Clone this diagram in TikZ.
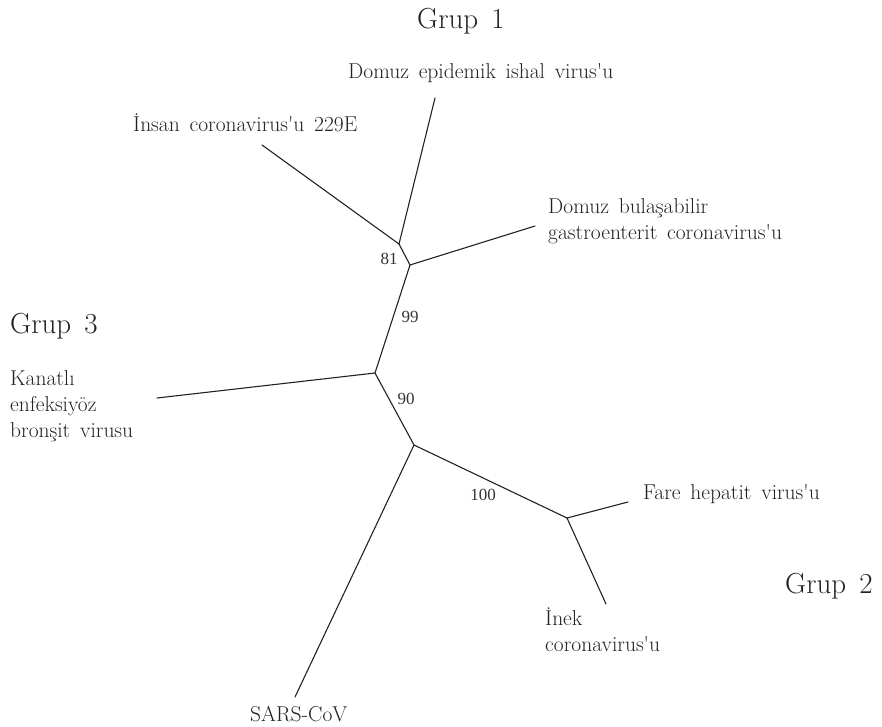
\documentclass[tikz,border=0pt]{standalone}
\usepackage{fontspec}
\setmainfont{Latin Modern Roman}[WordSpace=1.5,Ligatures=TeXOff]
\newfontfamily\numfont{Liberation Serif}
\definecolor{ink}{HTML}{222222}
\definecolor{numink}{HTML}{333333}
\begin{document}
\begin{tikzpicture}[x=1pt,y=-1pt,
  branch/.style={draw=ink,line width=1.1pt,line cap=round},
  lbl/.style={inner sep=0pt,anchor=base west,text=ink,font=\fontsize{21.5}{26}\selectfont,align=left},
  grp/.style={inner sep=0pt,anchor=base west,text=ink,font=\fontsize{29}{34}\selectfont},
  boot/.style={inner sep=0pt,text=numink,font=\numfont\fontsize{17}{20}\selectfont}]
\useasboundingbox (0,0) rectangle (882,726);
% internal junctions
\coordinate (n81) at (399,244);
\coordinate (n2) at (410,265);
\coordinate (n3) at (375,373);
\coordinate (n4) at (414,445);
\coordinate (n5) at (567,518);
% tips
\coordinate (tped) at (435,98);
\coordinate (thcv) at (262,145);
\coordinate (ttge) at (535,226);
\coordinate (tibv) at (157,398);
\coordinate (tsars) at (295,697);
\coordinate (tmhv) at (628,502);
\coordinate (tbcv) at (606,604);
% branches
\draw[branch] (n81) -- (tped);
\draw[branch] (n81) -- (thcv);
\draw[branch] (n81) -- (n2);
\draw[branch] (n2) -- (ttge);
\draw[branch] (n2) -- (n3);
\draw[branch] (n3) -- (tibv);
\draw[branch] (n3) -- (n4);
\draw[branch] (n4) -- (tsars);
\draw[branch] (n4) -- (n5);
\draw[branch] (n5) -- (tmhv);
\draw[branch] (n5) -- (tbcv);
% group labels
\node[grp] (g1) at (417,28) {Grup 1};
\node[grp] (g3) at (10,333) {Grup 3};
\node[grp] (g2) at (785,593) {Grup 2};
% taxon labels (base anchor = last line's baseline)
\node[lbl] (ped) at (348,78) {Domuz epidemik ishal virus'u};
\node[lbl] (hcv) at (133,131) {İnsan coronavirus'u 229E};
\node[lbl] (tge) at (548,239) {Domuz bulaşabilir\\gastroenterit coronavirus'u};
\node[lbl] (ibv) at (10,437) {Kanatlı\\enfeksiyöz\\bronşit virusu};
\node[lbl] (mhv) at (643,499) {Fare hepatit virus'u};
\node[lbl] (bcv) at (545,651) {İnek\\coronavirus'u};
\node[lbl] (sars) at (250,721) {SARS-CoV};
% bootstrap values
\node[boot] (b81) at (389,259) {81};
\node[boot] (b99) at (410,317) {99};
\node[boot] (b90) at (406,399) {90};
\node[boot] (b100) at (483,495) {100};
\end{tikzpicture}
\end{document}
